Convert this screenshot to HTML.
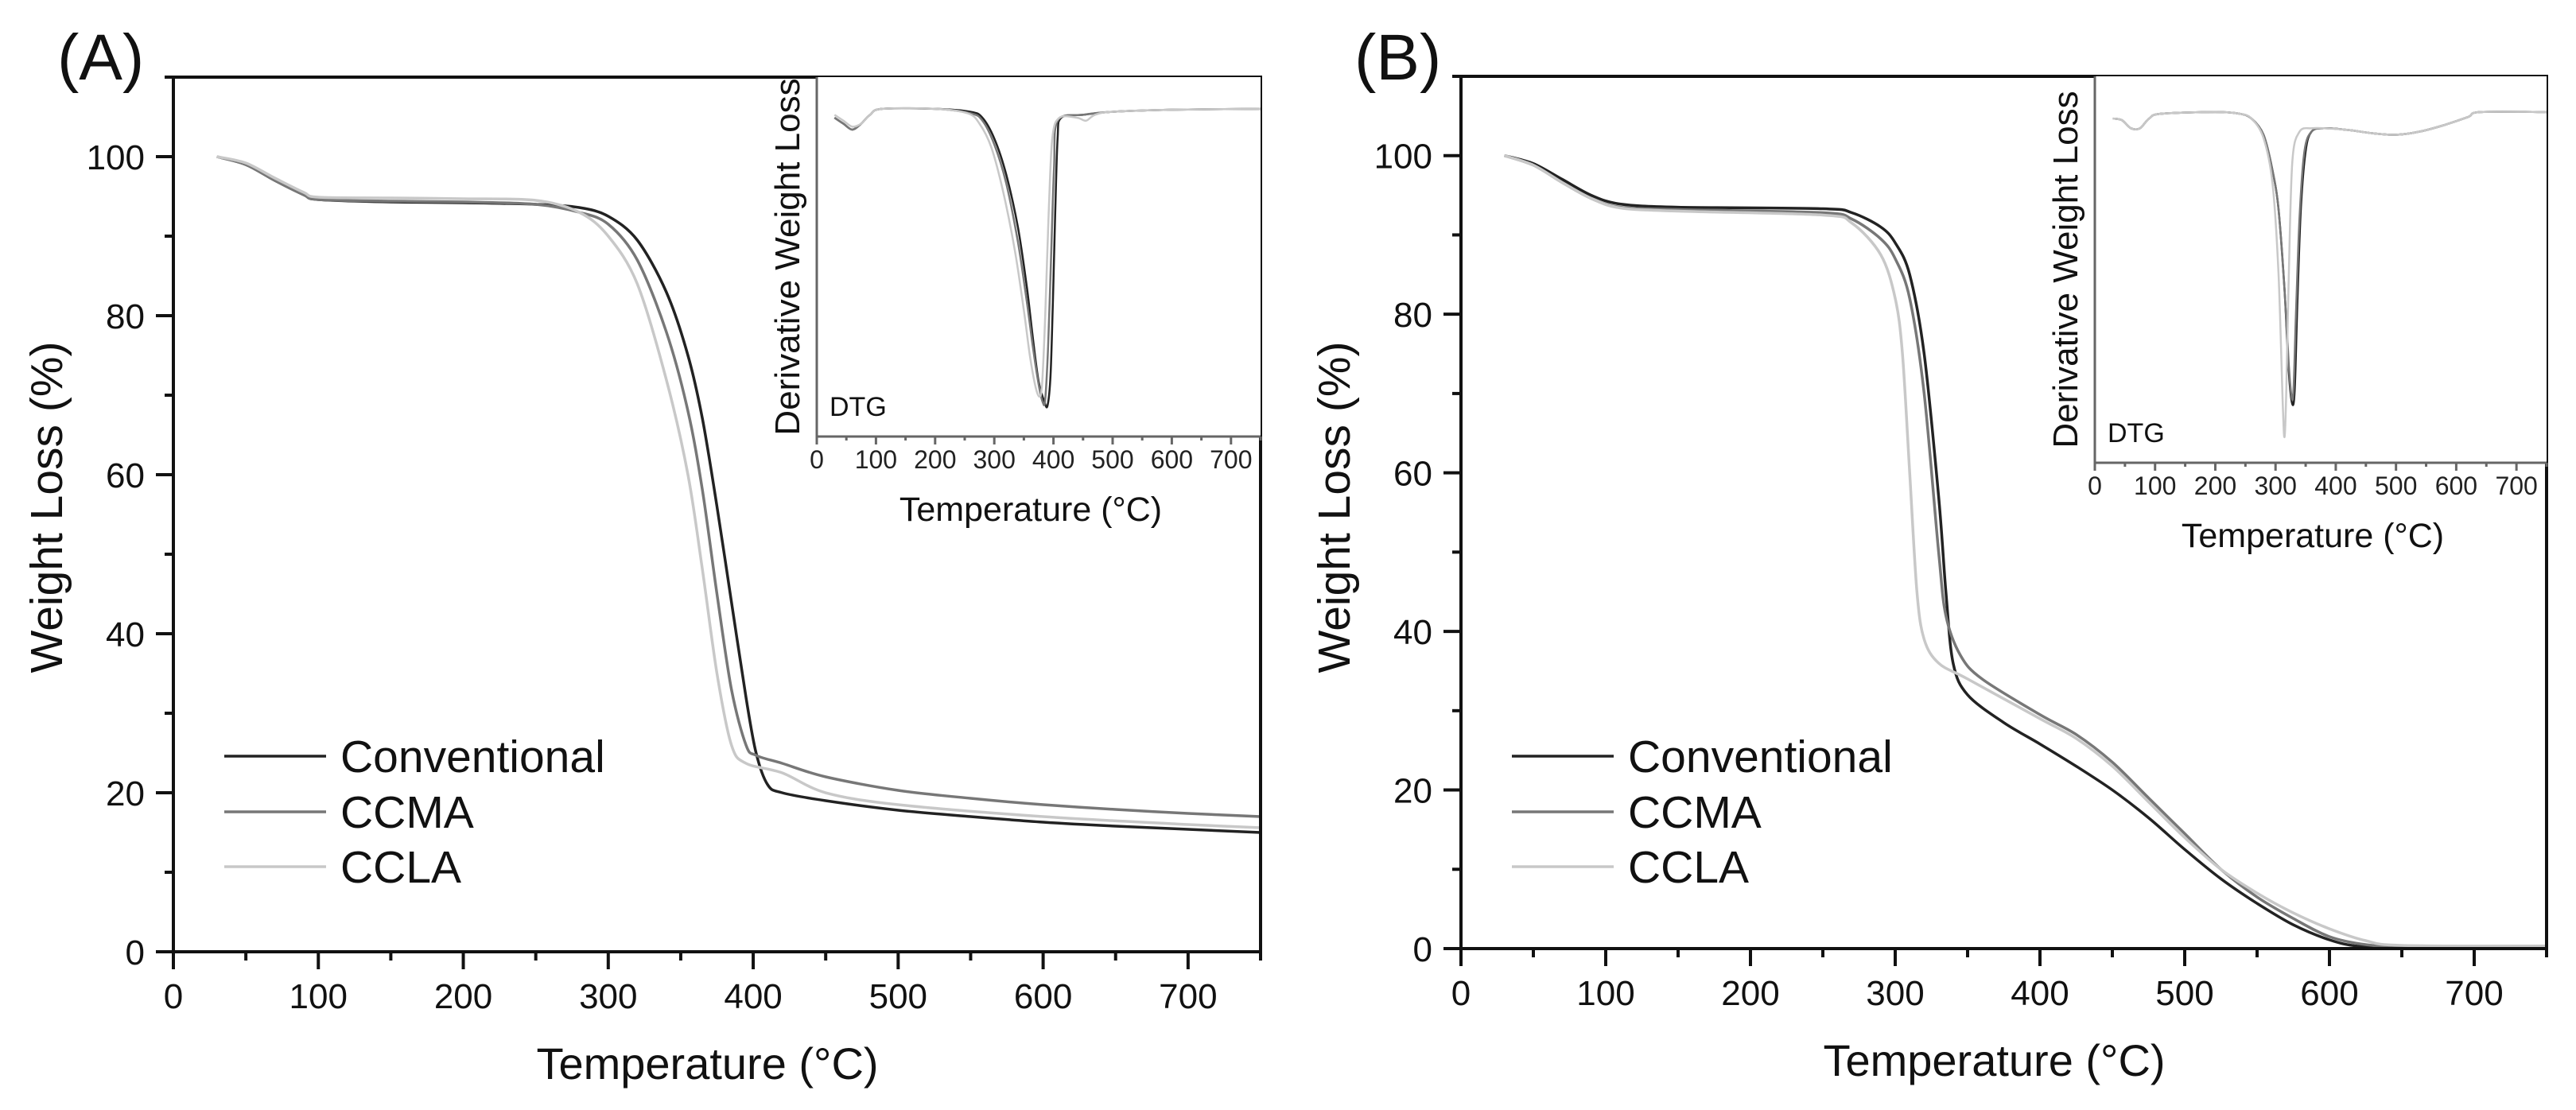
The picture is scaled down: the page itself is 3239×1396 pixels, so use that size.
<!DOCTYPE html>
<html><head><meta charset="utf-8"><style>
html,body{margin:0;padding:0;background:#fff;}
svg{display:block;font-family:"Liberation Sans",Arial,sans-serif;}
</style></head><body>
<svg id="fig" width="3239" height="1396" viewBox="0 0 3239 1396" xmlns="http://www.w3.org/2000/svg"></svg>
<script>
// ---- Data ----
const seriesNames = ["Conventional", "CCMA", "CCLA"];
const seriesColors = ["#222222", "#777777", "#c8c8c8"];
const xTicks = [0, 100, 200, 300, 400, 500, 600, 700];
const yTicks = [0, 20, 40, 60, 80, 100];

// Panel A TGA
const aConvX = [30,50,70,90,100,150,200,250,280,300,320,340,355,365,375,385,395,402,410,420,450,500,550,600,650,700,750];
const aConvY = [100,99,97,95.2,94.6,94.3,94.2,94,93.6,92.5,89.5,83,75,67,56,44,32,25,21,20,19,17.8,17,16.3,15.8,15.4,15];
const aCcmaX = [30,50,70,90,100,150,200,250,280,300,320,340,355,365,375,385,395,402,420,450,500,550,600,650,700,750];
const aCcmaY = [100,99,97,95.2,94.6,94.4,94.3,94,93,91.5,87,78,68,58,45,33,26,24.7,23.7,22,20.3,19.3,18.5,17.9,17.4,17];
const aCclaX = [30,50,70,90,100,150,200,250,280,300,320,340,355,365,375,385,395,420,450,500,600,700,750];
const aCclaY = [100,99.2,97.3,95.5,94.9,94.8,94.7,94.5,93,90,84,72,60,48,35,26,23.7,22.5,20,18.5,17,16,15.6];

// Panel B TGA
const bConvX = [30,50,70,90,110,150,250,270,290,300,310,320,330,335,340,350,375,400,425,450,475,500,525,550,575,600,620,650,750];
const bConvY = [100,99,97,95,93.9,93.5,93.3,92.8,91,89,85,75,57,45,36,32,28.5,25.8,23,20,16.5,12.5,8.8,5.7,3,1.1,0.3,0.2,0.2];
const bCcmaX = [30,50,70,90,110,150,250,270,290,300,310,320,330,335,345,360,400,425,450,475,500,525,550,575,600,625,650,750];
const bCcmaY = [100,98.8,96.6,94.6,93.5,93.2,92.8,92,89.5,87,82,70,50,42,37,34,29.5,27,23.5,19,14.5,10,6.5,3.8,1.5,0.5,0.3,0.3];
const bCclaX = [30,50,70,90,110,150,250,270,290,300,305,310,315,320,330,350,400,425,450,475,500,525,550,575,600,625,650,750];
const bCclaY = [100,98.8,96.6,94.6,93.4,93,92.5,91.5,87.5,82,75,60,45,39,36,34,29,26.5,23,18.5,14,10,7,4.5,2.5,1,0.4,0.3];

// Panel A DTG inset (normalised: 0 baseline, -100 peak)
const aDtgConvX = [30,45,60,75,90,110,200,260,280,300,320,340,355,365,375,385,390,395,399,403,407,413,450,500,600,750];
const aDtgConvY = [-3,-5,-7,-5,-2,0,0,-1,-3,-10,-22,-40,-60,-77,-92,-99,-100,-90,-65,-35,-10,-3,-2,-1,-0.3,0];
const aDtgCcmaX = [30,45,60,75,90,110,200,260,280,300,320,340,355,365,375,382,386,391,396,401,407,450,500,600,750];
const aDtgCcmaY = [-3,-5,-7,-5,-2,0,0,-1.5,-4,-12,-25,-45,-65,-80,-93,-99,-98,-80,-50,-20,-4,-2,-1,-0.3,0];
const aDtgCclaX = [30,45,60,75,90,110,200,255,275,295,315,335,350,360,370,377,381,386,392,398,410,440,455,470,500,600,750];
const aDtgCclaY = [-2,-4,-6,-5,-2,0,0,-1.5,-5,-13,-28,-48,-68,-83,-94,-97,-92,-70,-35,-10,-3,-3,-4,-2,-1,-0.3,0];

// Panel B DTG inset
const bDtgConvX = [30,45,60,75,90,110,200,240,260,280,295,305,315,322,328,332,336,342,350,360,380,420,460,500,540,580,620,640,750];
const bDtgConvY = [-2,-2.5,-5,-5,-2,-0.5,0,-0.5,-2,-7,-18,-30,-55,-80,-90,-85,-60,-30,-12,-6,-5,-5.5,-6.5,-7,-6,-4,-1.5,0,0];
const bDtgCcmaX = [30,45,60,75,90,110,200,240,260,280,295,305,315,322,327,330,334,340,348,360,380,420,460,500,540,580,620,640,750];
const bDtgCcmaY = [-2,-2.5,-5,-5,-2,-0.5,0,-0.5,-2,-7,-18,-30,-55,-78,-88,-85,-62,-32,-12,-6,-5,-5.5,-6.5,-7,-6,-4,-1.5,0,0];
const bDtgCclaX = [30,45,60,75,90,110,200,240,260,280,295,305,312,315,318,322,328,340,360,380,420,460,500,540,580,620,640,750];
const bDtgCclaY = [-2,-2.5,-5,-5,-2,-0.5,0,-0.5,-2,-8,-22,-50,-90,-100,-85,-50,-15,-6,-5,-5,-5.5,-6.5,-7,-6,-4,-1.5,0,0];

const NS = "http://www.w3.org/2000/svg";
const svg = document.getElementById("fig");
function el(tag, attrs, parent, text) {
  const e = document.createElementNS(NS, tag);
  for (const k in attrs) e.setAttribute(k, attrs[k]);
  if (text !== undefined) e.textContent = text;
  (parent || svg).appendChild(e);
  return e;
}
// Catmull-Rom smoothed path through data points
function linePath(xs, ys, sx, sy) {
  const P = xs.map((x, i) => [sx(x), sy(ys[i])]);
  let d = "M" + P[0][0].toFixed(1) + "," + P[0][1].toFixed(1);
  for (let i = 0; i < P.length - 1; i++) {
    const p0 = P[i - 1] || P[i], p1 = P[i], p2 = P[i + 1], p3 = P[i + 2] || P[i + 1];
    const t = 0.16;
    const c1 = [p1[0] + (p2[0] - p0[0]) * t, p1[1] + (p2[1] - p0[1]) * t];
    const c2 = [p2[0] - (p3[0] - p1[0]) * t, p2[1] - (p3[1] - p1[1]) * t];
    d += " C" + c1[0].toFixed(1) + "," + c1[1].toFixed(1) + " " + c2[0].toFixed(1) + "," + c2[1].toFixed(1) + " " + p2[0].toFixed(1) + "," + p2[1].toFixed(1);
  }
  return d;
}

function drawPanel(p) {
  const g = el("g", {});
  
  
  const sx = v => p.x0 + (v / 750) * (p.x1 - p.x0);
  const sy = v => p.y0 - (v / 110) * (p.y0 - p.y1);
  const lab = el("text", {x: p.labX, y: 100, "font-size": 82, fill: "#111"}, g, "(" + p.id + ")");
  
  
  p.series.forEach((s, i) => {
    const path = el("path", {d: linePath(s[0], s[1], sx, sy), fill: "none", stroke: seriesColors[i], "stroke-width": 3.5, "stroke-linejoin": "round"}, g);
    
    
  });
  const fr = el("rect", {x: p.x0, y: p.y1, width: p.x1 - p.x0, height: p.y0 - p.y1, fill: "none", stroke: "#111", "stroke-width": 4}, g);
  
  
  for (let v = 0; v <= 750; v += 50) {
    const major = v % 100 === 0;
    el("line", {x1: sx(v), x2: sx(v), y1: p.y0, y2: p.y0 + (major ? 22 : 11), stroke: "#111", "stroke-width": 4}, g);
  }
  xTicks.forEach(v => {
    const t = el("text", {x: sx(v), y: p.y0 + 71, "font-size": 44, "text-anchor": "middle", fill: "#111"}, g, v);
    
    
  });
  for (let v = 0; v <= 110; v += 10) {
    const major = v % 20 === 0;
    el("line", {x1: p.x0, x2: p.x0 - (major ? 22 : 11), y1: sy(v), y2: sy(v), stroke: "#111", "stroke-width": 4}, g);
  }
  yTicks.forEach(v => {
    const t = el("text", {x: p.x0 - 36, y: sy(v) + 16, "font-size": 44, "text-anchor": "end", fill: "#111"}, g, v);
    
    
  });
  const xt = el("text", {x: (p.x0 + p.x1) / 2 - 12, y: p.y0 + 160, "font-size": 56, "text-anchor": "middle", fill: "#111"}, g, "Temperature (°C)");
  
  
  const yt = el("text", {x: 0, y: 0, "font-size": 57, "text-anchor": "middle", fill: "#111", transform: "translate(" + (p.x0 - 140) + ",638) rotate(-90)"}, g, "Weight Loss (%)");
  
  
  const lg = el("g", {}, g);
  
  
  seriesNames.forEach((n, i) => {
    const ly = p.legY[i];
    const e = el("g", {}, lg);
    
    
    el("line", {x1: p.x0 + 64, x2: p.x0 + 192, y1: ly, y2: ly, stroke: seriesColors[i], "stroke-width": 3.5}, e);
    el("text", {x: p.x0 + 210, y: ly + 20, "font-size": 57, fill: "#111"}, e, n);
  });
  const ig = el("g", {}, g);
  
  
  const I = p.inset;
  const ix = v => I.x0 + (v / 750) * (I.x1 - I.x0);
  const iy = v => I.y1 + ((I.top - v) / (I.top - I.bot)) * (I.y0 - I.y1);
  el("rect", {x: I.x0, y: I.y1, width: I.x1 - I.x0, height: I.y0 - I.y1, fill: "#fff", stroke: "none"}, ig);
  I.series.forEach((s, i) => {
    const path = el("path", {d: linePath(s[0], s[1], ix, iy), fill: "none", stroke: seriesColors[i], "stroke-width": 2.5, "stroke-linejoin": "round"}, ig);
    
    
  });
  el("line", {x1: I.x0, x2: I.x0, y1: I.y1, y2: I.y0, stroke: "#666", "stroke-width": 3}, ig);
  el("line", {x1: I.x0, x2: I.x1, y1: I.y0, y2: I.y0, stroke: "#666", "stroke-width": 3}, ig);
  for (let v = 0; v <= 750; v += 50) {
    const major = v % 100 === 0;
    el("line", {x1: ix(v), x2: ix(v), y1: I.y0, y2: I.y0 + (major ? 10 : 5), stroke: "#666", "stroke-width": 3}, ig);
  }
  xTicks.forEach(v => {
    const t = el("text", {x: ix(v), y: I.y0 + 40, "font-size": 32, "text-anchor": "middle", fill: "#222"}, ig, v);
    
    
  });
  const it = el("text", {x: (I.x0 + I.x1) / 2 - 10, y: I.y0 + 106, "font-size": 43, "text-anchor": "middle", fill: "#111"}, ig, "Temperature (°C)");
  
  
  const iyt = el("text", {x: 0, y: 0, "font-size": 44, "text-anchor": "middle", fill: "#111", transform: "translate(" + (I.x0 - 22) + "," + ((I.y0 + I.y1) / 2) + ") rotate(-90)"}, ig, "Derivative Weight Loss");
  
  
  const dtg = el("text", {x: I.x0 + 16, y: I.y0 - 26, "font-size": 34, fill: "#111"}, ig, "DTG");
  
  
}

drawPanel({
  id: "A", x0: 218, x1: 1585, y0: 1197, y1: 97, labX: 72,
  legY: [951, 1021, 1090],
  series: [[aConvX, aConvY], [aCcmaX, aCcmaY], [aCclaX, aCclaY]],
  inset: {x0: 1027, x1: 1585, y0: 549, y1: 97, top: 10.7, bot: -110.5,
    series: [[aDtgConvX, aDtgConvY], [aDtgCcmaX, aDtgCcmaY], [aDtgCclaX, aDtgCclaY]]}
});
drawPanel({
  id: "B", x0: 1837, x1: 3202, y0: 1193, y1: 96, labX: 1703,
  legY: [951, 1021, 1090],
  series: [[bConvX, bConvY], [bCcmaX, bCcmaY], [bCclaX, bCclaY]],
  inset: {x0: 2634, x1: 3202, y0: 582, y1: 96, top: 11, bot: -108,
    series: [[bDtgConvX, bDtgConvY], [bDtgCcmaX, bDtgCcmaY], [bDtgCclaX, bDtgCclaY]]}
});
</script>
</body></html>
